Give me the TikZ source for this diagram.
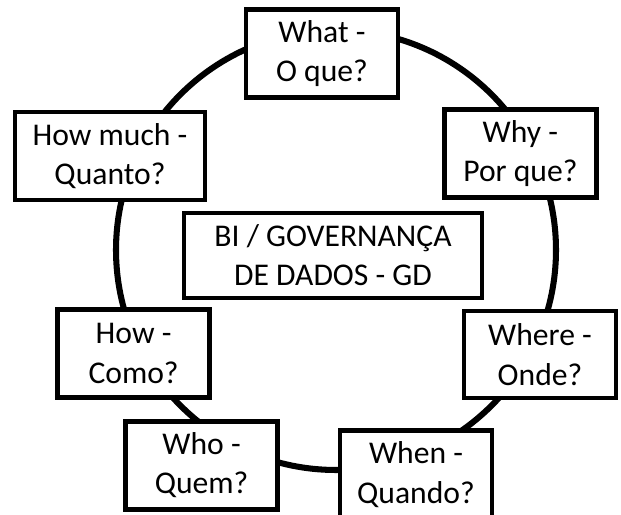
\documentclass[tikz,border=0pt]{standalone}
\usepackage{fontspec}
\setmainfont{Carlito}
\usepackage{tikz}
\usetikzlibrary{positioning}

\tikzset{qbox/.style={draw,line width=3.1pt,fill=white,align=center,
  minimum width=3.8cm,minimum height=2.2cm,inner sep=2pt,
  font=\fontsize{22.5}{28}\selectfont}}

\begin{document}
\begin{tikzpicture}
\useasboundingbox (0,0) rectangle (15.525,12.875);
\clip (0,0) rectangle (15.525,12.875);
\draw [line width=4.3pt] (8.4,6.625) circle (5.5);
\node[qbox] (what) at (8.05,11.54) {What -\\O que?};
\node[qbox,minimum width=4.75cm] (howmuch) at (2.75,8.975) {How much -\\Quanto?};
\node[qbox] (why) at (13.01,9.04) {Why -\\Por que?};
\node[qbox,minimum width=7.45cm,minimum height=2.125cm] (bigd) at (8.325,6.49) {BI / GOVERNANÇA\\DE DADOS - GD};
\node[qbox] (how) at (3.34,4.04) {How -\\Como?};
\node[qbox,minimum height=2.175cm] (where) at (13.5,4.01) {Where -\\Onde?};
\node[qbox] (who) at (5.04,1.24) {Who -\\Quem?};
\node[qbox] (when) at (10.4,1.01) {When -\\Quando?};
\end{tikzpicture}
\end{document}
